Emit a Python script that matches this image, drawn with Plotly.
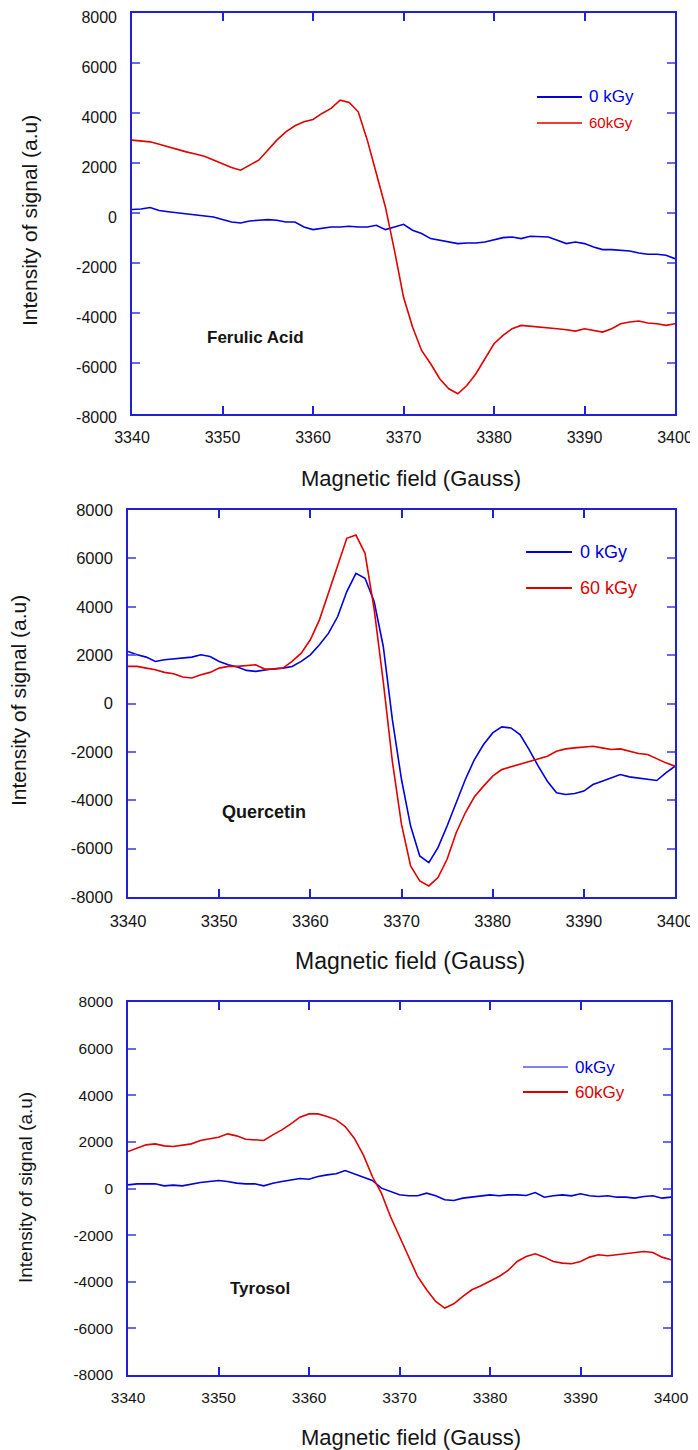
import plotly.graph_objects as go

# ---------------- data ----------------
FIELD = list(range(3340, 3401))  # magnetic field sampling (Gauss), 1 G steps

X_TICKS = [3340, 3350, 3360, 3370, 3380, 3390, 3400]
Y_TICKS = [-8000, -6000, -4000, -2000, 0, 2000, 4000, 6000, 8000]
Y_TICK_TEXT = ["-8000", "-6000", "-4000", "-2000", "0", "2000", "4000", "6000", "8000"]

SAMPLES = ["Ferulic Acid", "Quercetin", "Tyrosol"]
LEGEND_NAMES = [["0 kGy", "60kGy"], ["0 kGy", "60 kGy"], ["0kGy", "60kGy"]]

FERULIC_0 = [147, 170, 230, 110, 60, 20, -13, -40, -80, -150,
             -253, -347, -387, -307, -280, -253, -280, -347, -347, -547,
             -653, -613, -547, -547, -520, -547, -547, -480, -653, -547,
             -440, -680, -813, -1013, -1080, -1147, -1213, -1187, -1187, -1147,
             -1053, -973, -947, -1013, -920, -920, -947, -1080, -1213, -1147,
             -1213, -1347, -1453, -1453, -1480, -1507, -1587, -1640, -1640, -1680,
             -1813]
FERULIC_60 = [2920, 2900, 2853, 2760, 2653, 2560, 2453, 2370, 2280, 2130,
              1987, 1827, 1720, 1920, 2120, 2520, 2920, 3253, 3493, 3653,
              3747, 3987, 4187, 4520, 4427, 4053, 2920, 1587, 253, -1480,
              -3347, -4547, -5480, -6013, -6613, -7013, -7213, -6880, -6413, -5813,
              -5213, -4880, -4613, -4480, -4507, -4547, -4573, -4613, -4653, -4707,
              -4613, -4680, -4747, -4613, -4413, -4347, -4307, -4387, -4413, -4480,
              -4413]

QUERCETIN_0 = [2152, 2014, 1918, 1739, 1808, 1836, 1877, 1918, 2014, 1946,
               1739, 1602, 1506, 1368, 1327, 1396, 1437, 1464, 1533, 1739,
               2014, 2427, 2908, 3596, 4627, 5380, 5177, 4214, 2358, -667,
               -3142, -5067, -6304, -6579, -5961, -5066, -4104, -3141, -2317, -1698,
               -1217, -969, -1011, -1286, -1904, -2592, -3211, -3692, -3761, -3719,
               -3623, -3348, -3211, -3073, -2936, -3032, -3073, -3142, -3183, -2867,
               -2592]
QUERCETIN_60 = [1533, 1533, 1464, 1396, 1286, 1231, 1093, 1052, 1189, 1286,
                1464, 1533, 1533, 1561, 1602, 1423, 1423, 1464, 1739, 2083,
                2633, 3458, 4558, 5727, 6827, 6964, 6208, 3900, 900, -2400,
                -5000, -6716, -7335, -7541, -7198, -6441, -5341, -4517, -3857, -3417,
                -3004, -2729, -2619, -2523, -2427, -2289, -2179, -1973, -1877, -1836,
                -1794, -1767, -1836, -1904, -1877, -1973, -2069, -2111, -2289, -2454,
                -2592]

TYROSOL_0 = [157, 200, 200, 200, 114, 143, 114, 200, 257, 300,
             343, 300, 229, 200, 200, 114, 229, 300, 372, 429,
             400, 514, 586, 629, 772, 629, 514, 343, 14, -129,
             -272, -314, -314, -200, -314, -486, -514, -414, -372, -314,
             -272, -314, -272, -272, -300, -172, -372, -314, -272, -314,
             -229, -314, -343, -314, -372, -372, -414, -343, -314, -414,
             -372]
TYROSOL_60 = [1586, 1729, 1872, 1915, 1829, 1800, 1872, 1915, 2058, 2115,
              2200, 2344, 2258, 2115, 2086, 2058, 2301, 2515, 2772, 3058,
              3201, 3201, 3086, 2944, 2658, 2158, 1443, 514, -200, -1200,
              -2058, -2915, -3773, -4344, -4844, -5130, -4944, -4630, -4344, -4173,
              -3987, -3773, -3515, -3129, -2915, -2801, -2944, -3129, -3201, -3229,
              -3129, -2944, -2844, -2887, -2844, -2801, -2744, -2701, -2744, -2944,
              -3058]

SERIES = [(FERULIC_0, FERULIC_60), (QUERCETIN_0, QUERCETIN_60), (TYROSOL_0, TYROSOL_60)]

# ---------------- styling ----------------
PAGE_W, PAGE_H = 698, 1450
OFF = 8                      # default page (body) margin of the html page
W, H = PAGE_W - OFF, PAGE_H - OFF
BLUE = "#0000dc"
RED = "#e00000"
AXIS_BLUE = "#2020d8"
TICK_BLUE = "#6a6ae6"
TXT = "#141414"
FONT = "Liberation Sans, Arial, sans-serif"

def px_x(px):
    return (px - OFF) / W

def px_y(py):
    return 1 - (py - OFF) / H

# per panel: plot box (left, right, top, bottom) in window pixels and text settings
PANELS = [
    dict(box=(132, 675, 13, 413.5), tick=16, yshift=4, xtitle=(411, 478, 22), ytitle=(30, 221, 21),
         name=(205, 337.5, 17), leg_x=(537, 582, 587), leg_y=(97, 123), leg_font=(17, 15),
         leg_w=(2, 1.6)),
    dict(box=(128, 675, 510, 897), tick=16.5, yshift=0, xtitle=(410, 961, 23), ytitle=(18, 701, 21),
         name=(220, 812, 18), leg_x=(526, 572, 578), leg_y=(552, 588), leg_font=(18, 18),
         leg_w=(2, 2)),
    dict(box=(128, 671, 1002, 1375), tick=15.5, yshift=0, xtitle=(411, 1437, 22), ytitle=(25, 1188, 19),
         name=(228, 1288, 17), leg_x=(523, 568, 573), leg_y=(1067, 1092), leg_font=(17, 17),
         leg_w=(1, 2.2)),
]

fig = go.Figure()
annotations = []
shapes = []
layout_axes = {}

for i, (panel, (s0, s60)) in enumerate(zip(PANELS, SERIES)):
    n = "" if i == 0 else str(i + 1)
    xa, ya = "x" + n, "y" + n
    fig.add_trace(go.Scatter(x=FIELD, y=s0, xaxis=xa, yaxis=ya, mode="lines",
                             line=dict(color=BLUE, width=1.6), showlegend=False))
    fig.add_trace(go.Scatter(x=FIELD, y=s60, xaxis=xa, yaxis=ya, mode="lines",
                             line=dict(color=RED, width=1.6), showlegend=False))

    l, r, t, b = panel["box"]
    layout_axes["xaxis" + n] = dict(
        domain=[px_x(l), px_x(r)], anchor=ya, range=[3340, 3400],
        tickvals=X_TICKS, ticktext=[str(v) for v in X_TICKS],
        ticks="inside", ticklen=8, tickwidth=1.5, tickcolor=AXIS_BLUE,
        showline=True, linecolor=AXIS_BLUE, linewidth=1.6, mirror="ticks",
        showgrid=False, zeroline=False, ticklabelstandoff=8, automargin=False,
        ticklabeloverflow="allow",
        tickfont=dict(family=FONT, size=panel["tick"], color=TXT))
    layout_axes["yaxis" + n] = dict(
        domain=[px_y(b), px_y(t)], anchor=xa, range=[-8000, 8000],
        tickvals=Y_TICKS, ticktext=Y_TICK_TEXT,
        ticks="inside", ticklen=8, tickwidth=2, tickcolor=TICK_BLUE,
        showline=True, linecolor=AXIS_BLUE, linewidth=1.6, mirror="ticks",
        showgrid=False, zeroline=False, ticklabelstandoff=10, automargin=False,
        ticklabeloverflow="allow", ticklabelshift=panel["yshift"],
        tickfont=dict(family=FONT, size=panel["tick"], color=TXT))

    # axis titles
    tx, ty, tf = panel["xtitle"]
    annotations.append(dict(text="Magnetic field (Gauss)", x=px_x(tx), y=px_y(ty),
                            xref="paper", yref="paper", showarrow=False,
                            xanchor="center", yanchor="middle",
                            font=dict(family=FONT, size=tf, color=TXT)))
    yx, yy, yf = panel["ytitle"]
    annotations.append(dict(text="Intensity of signal (a.u)", x=px_x(yx), y=px_y(yy),
                            xref="paper", yref="paper", showarrow=False, textangle=-90,
                            xanchor="center", yanchor="middle",
                            font=dict(family=FONT, size=yf, color=TXT)))
    # sample name
    nx, ny, nf = panel["name"]
    annotations.append(dict(text="<b>" + SAMPLES[i] + "</b>", x=px_x(nx), y=px_y(ny),
                            xref="paper", yref="paper", showarrow=False,
                            xanchor="left", yanchor="middle",
                            font=dict(family=FONT, size=nf, color=TXT)))
    # legend
    lx0, lx1, ltx = panel["leg_x"]
    for k, (col, ly) in enumerate(zip([BLUE, RED], panel["leg_y"])):
        shapes.append(dict(type="line", xref="paper", yref="paper",
                           x0=px_x(lx0), x1=px_x(lx1), y0=px_y(ly), y1=px_y(ly),
                           line=dict(color=col, width=panel["leg_w"][k])))
        annotations.append(dict(text=LEGEND_NAMES[i][k], x=px_x(ltx), y=px_y(ly),
                                xref="paper", yref="paper", showarrow=False,
                                xanchor="left", yanchor="middle",
                                font=dict(family=FONT, size=panel["leg_font"][k], color=col)))

fig.update_layout(
    width=W, height=H, margin=dict(l=0, r=0, t=0, b=0, pad=0, autoexpand=False),
    paper_bgcolor="white", plot_bgcolor="white", showlegend=False,
    annotations=annotations, shapes=shapes, **layout_axes)

fig.write_html("out.html")
